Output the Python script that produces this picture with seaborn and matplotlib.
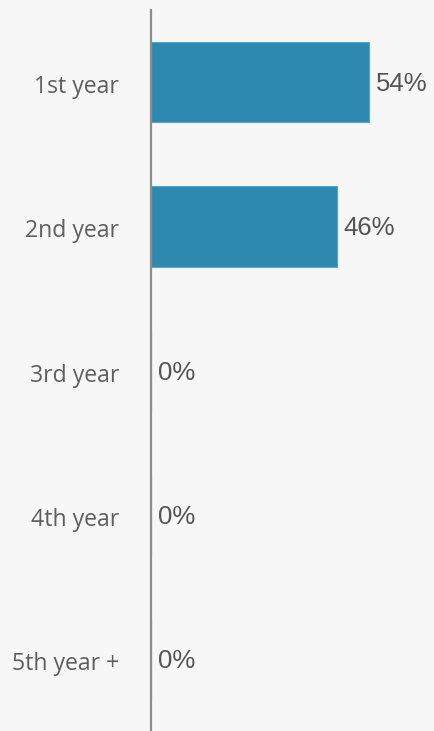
import matplotlib
matplotlib.use("Agg")
import matplotlib.pyplot as plt
import matplotlib.transforms as mtrans
import seaborn as sns
import pandas as pd

years = ["1st year", "2nd year", "3rd year", "4th year", "5th year +"]
shares = [54, 46, 0, 0, 0]
value_labels = ["54%", "46%", "0%", "0%", "0%"]

df = pd.DataFrame({"year": years, "share": shares})

bg = "#f7f7f7"
sns.set_style("white")

fig = plt.figure(figsize=(4.34, 7.31), dpi=100, facecolor=bg)
ax = fig.add_axes([151 / 434, 0, 1 - 151 / 434, 1 - 10 / 731])
ax.set_facecolor(bg)

sns.barplot(data=df, x="share", y="year", order=years, color="#2e89b0",
            saturation=1, width=0.56, edgecolor="#5aa6c8", linewidth=0.8, ax=ax)

# nudge texts a couple of pixels down
down = mtrans.ScaledTranslation(0, -2 / 100, fig.dpi_scale_trans)

for i, (v, lab) in enumerate(zip(shares, value_labels)):
    ax.text(v + 1.7, i, lab, va="center", ha="left", fontsize=18.5,
            color="#555555", family="Liberation Sans",
            transform=ax.transData + down)

ax.set_xlim(0, 70)
ax.set_ylim(4.5, -0.5)
ax.set_xlabel("")
ax.set_ylabel("")
ax.set_xticks([])
for s in ["top", "right", "bottom"]:
    ax.spines[s].set_visible(False)
ax.spines["left"].set_color("#8c8c8c")
ax.spines["left"].set_linewidth(1.6)
ax.tick_params(axis="y", length=0, pad=23)
for t in ax.get_yticklabels():
    t.set_fontfamily("Open Sans")
    t.set_fontweight("normal")
    t.set_fontsize(16.6)
    t.set_color("#5e5e5e")
    t.set_transform(t.get_transform() + down)

fig.savefig("out.png", dpi=100, facecolor=bg)
